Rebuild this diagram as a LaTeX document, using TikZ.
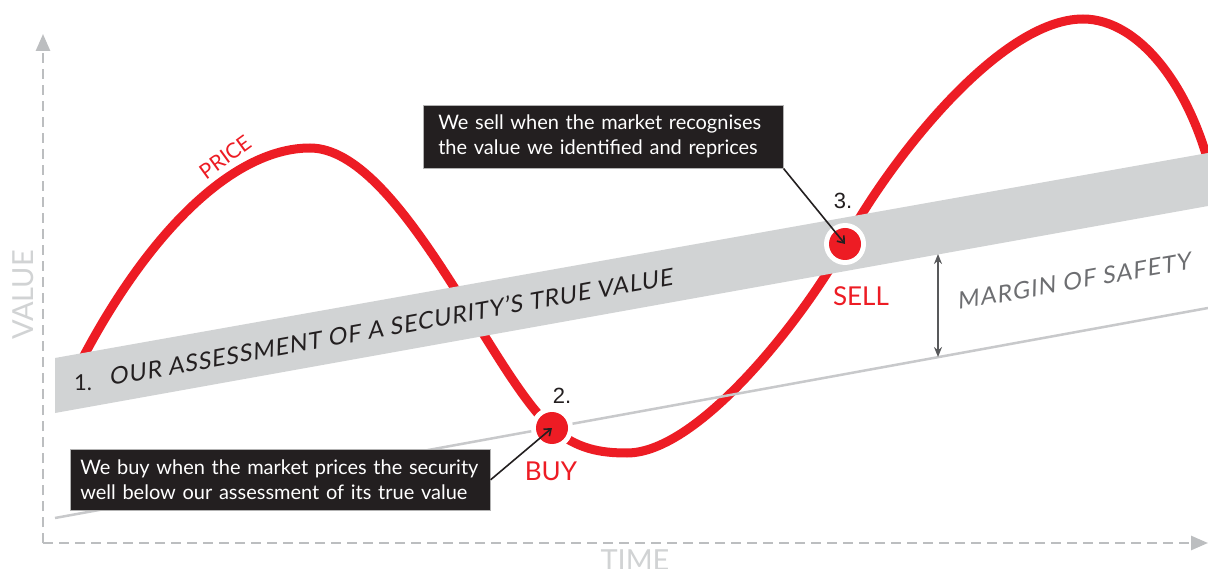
\documentclass[tikz,border=0pt]{standalone}
\usepackage{fontspec}
\setmainfont{Lato}
\newfontfamily\numfont{Liberation Sans}
\newfontfamily\slantfont{Lato}[FakeSlant=0.2,LetterSpace=3.8]
\newfontfamily\slantfontb{Lato}[FakeSlant=0.2,LetterSpace=4.8]
\usetikzlibrary{arrows.meta}
\definecolor{pricered}{HTML}{ED1C24}
\definecolor{bandgrey}{HTML}{D1D3D4}
\definecolor{linegrey}{HTML}{C8C9CB}
\definecolor{axisgrey}{HTML}{BCBEC0}
\definecolor{labelgrey}{HTML}{D1D3D4}
\definecolor{boxblack}{HTML}{231F20}
\definecolor{margingrey}{HTML}{6D6E71}
\definecolor{arrowgrey}{HTML}{58595B}
\begin{document}
\begin{tikzpicture}[x=1pt,y=-1pt,
  axisline/.style={draw=axisgrey,line width=2.6pt,dash pattern=on 10pt off 6pt,-{Triangle[length=17pt,width=14pt]}},
  axislabel/.style={text=labelgrey,font=\fontsize{29}{29}\selectfont,inner sep=0pt},
  pricecurve/.style={draw=pricered,line width=9pt},
  dotring/.style={circle,fill=white,minimum size=42pt,inner sep=0pt},
  reddot/.style={circle,fill=pricered,minimum size=32pt,inner sep=0pt},
  callout/.style={fill=boxblack,draw=gray!60,line width=0.6pt,text=white,align=left,
     font=\fontsize{20}{25}\selectfont,anchor=north west,inner ysep=0pt},
  pointer/.style={draw=boxblack,line width=1.6pt,-{Straight Barb[length=6pt,width=9pt]}},
  steplabel/.style={font=\numfont\fontsize{22}{22}\selectfont,text=boxblack,inner sep=0pt},
  actionlabel/.style={font=\fontsize{26}{26}\selectfont,text=pricered,inner sep=0pt},
  bandtext/.style={font=\slantfont\fontsize{23.5}{23.5}\selectfont,text=boxblack,inner sep=0pt,anchor=base west,rotate=10.2},
  margintext/.style={font=\slantfontb\fontsize{23.5}{23.5}\selectfont,text=margingrey,inner sep=0pt,anchor=base west,rotate=10},
  marginarrow/.style={draw=arrowgrey,line width=1.8pt,{Stealth[length=10pt,width=8pt]}-{Stealth[length=10pt,width=8pt]}}
]
\useasboundingbox (0,0) rectangle (1208,569);
\clip (0,0) rectangle (1208,569);
\fill[white] (0,0) rectangle (1208,569);

% axes
\coordinate (origin) at (43,543);
\coordinate (ytop) at (43,34);
\coordinate (xend) at (1208,543);
\draw[axisline] (origin) -- (ytop);
\draw[axisline] (origin) -- (xend);
\node[axislabel,rotate=90,anchor=base] (valuelabel) at (33,295) {VALUE};
\node[axislabel,anchor=base] (timelabel) at (635,570) {TIME};

% price curve
\draw[pricecurve] (70,383) .. controls (140,240) and (230,148) .. (310,148)
  .. controls (400,148) and (492,377) .. (552,428)
  .. controls (577,449) and (600,453) .. (627,453)
  .. controls (700,453) and (807,313) .. (845,243)
  .. controls (890,160) and (1000,19) .. (1083,19)
  .. controls (1140,19) and (1195,90) .. (1215,190);
\node[font=\fontsize{21}{21}\selectfont,text=pricered,rotate=36,inner sep=0pt] (pricelabel) at (225,157) {PRICE};

% assessment band
\fill[bandgrey] (55,358) -- (1208,153) -- (1208,206) -- (55,413) -- cycle;
\node[font=\fontsize{22}{22}\selectfont,text=boxblack,inner sep=0pt,anchor=base west] (one) at (74,391) {1.};
\node[bandtext] (bandlabel) at (110,386) {OUR ASSESSMENT OF A SECURITY’S TRUE VALUE};

% margin of safety line
\coordinate (mlineL) at (55,518);
\coordinate (mlineR) at (1208,308);
\draw[linegrey,line width=2.5pt] (mlineL) -- (mlineR);
\coordinate (mtop) at (938,254);
\coordinate (mbot) at (938,357);
\draw[marginarrow] (mtop) -- (mbot);
\node[margintext] (marginlabel) at (958,310) {MARGIN OF SAFETY};

% buy and sell points
\node[dotring] (buyring) at (552,428) {};
\node[reddot] (buy) at (552,428) {};
\node[dotring] (sellring) at (845,244) {};
\node[reddot] (sell) at (845,244) {};
\node[steplabel] (two) at (562,396) {2.};
\node[steplabel] (three) at (843,201) {3.};
\node[actionlabel] (buylabel) at (551,471) {BUY};
\node[actionlabel] (selllabel) at (861,296) {SELL};

% callouts
\node[callout,inner xsep=10pt,text width=400pt,minimum width=420pt,minimum height=61pt] (buybox) at (70,449)
  {We buy when the market prices the security\\well below our assessment of its true value};
\node[callout,inner xsep=15pt,text width=330pt,minimum width=360pt,minimum height=63pt] (sellbox) at (423,105)
  {We sell when the market recognises\\the value we identified and reprices};
\draw[pointer] (buybox.east) -- (buy.center);
\draw[pointer] (sellbox.south east) -- (sell.center);
\end{tikzpicture}
\end{document}
